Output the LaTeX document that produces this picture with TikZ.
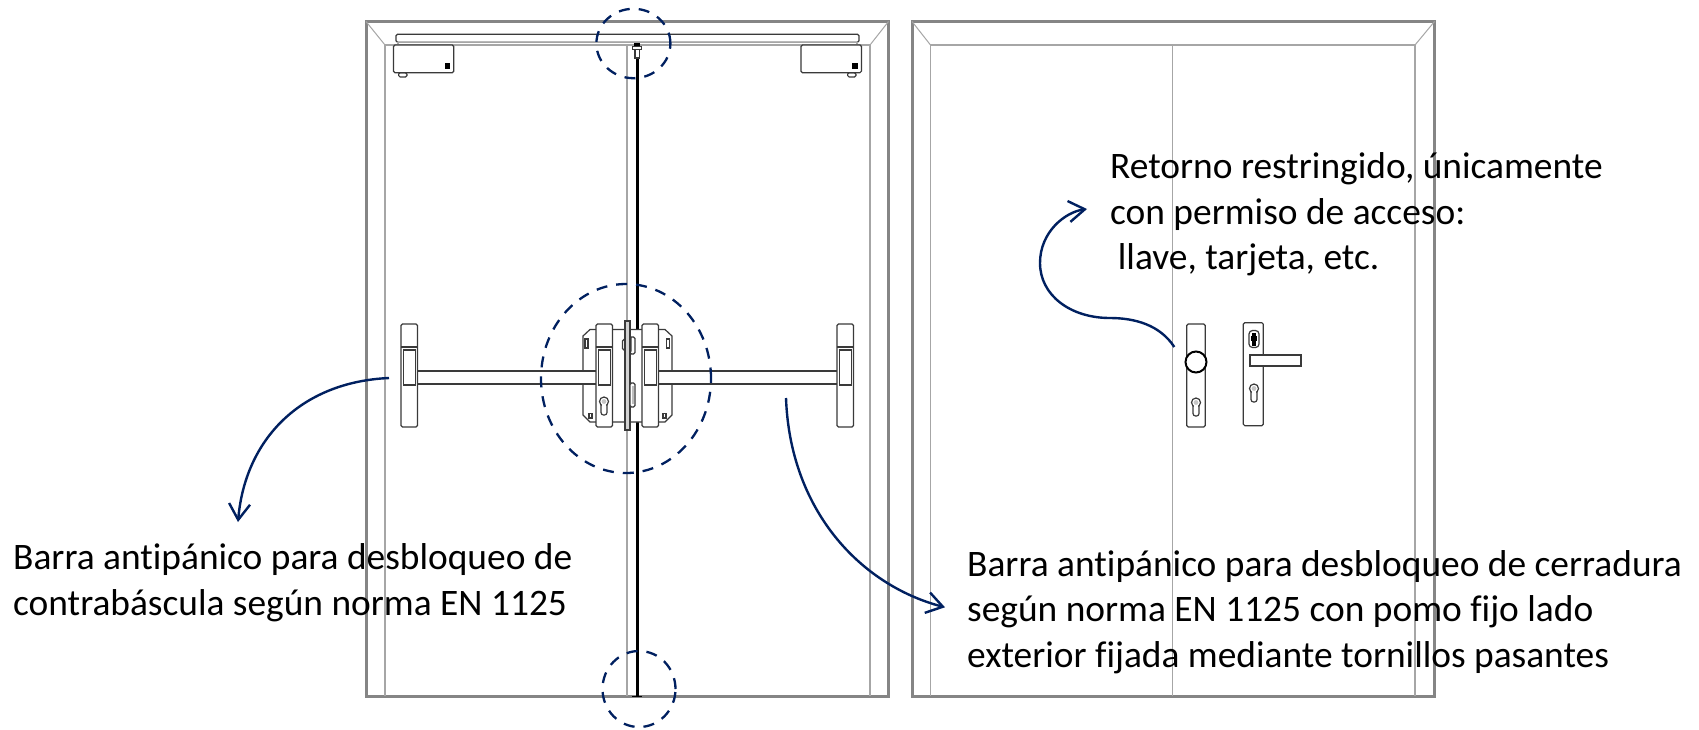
\documentclass[tikz,border=0pt]{standalone}
\usepackage{fontspec}
\setmainfont[Ligatures=NoCommon]{Carlito}
\usetikzlibrary{arrows.meta}
\definecolor{navy}{HTML}{002060}
\definecolor{framegray}{HTML}{858585}
\definecolor{innergray}{HTML}{A6A6A6}
\definecolor{ink}{HTML}{3A3A3A}
\tikzset{
  outerframe/.style={draw=framegray,line width=3pt},
  innerframe/.style={draw=innergray,line width=1.5pt},
  mitre/.style={draw=innergray,line width=1pt},
  part/.style={draw=ink,fill=white,line width=1.2pt,rounded corners=1.5pt},
  sharp/.style={draw=ink,fill=white,line width=1.2pt},
  zone/.style={draw=navy,line width=2.3pt,dash pattern=on 11pt off 9pt},
  callout/.style={draw=navy,line width=2.4pt,-{Straight Barb[length=16pt,width=21pt,line width=2.4pt]}},
  label/.style={anchor=north west,inner sep=0pt,align=left,text=black,font=\fontsize{37.4}{45.5}\selectfont},
}
\newcommand{\firstline}{\rule{0pt}{26pt}}
\newcommand{\keyholeat}[2]{%
  \draw[ink,fill=white,line width=1.2pt,rounded corners=2.5pt] (#1-3,#2-4) rectangle (#1+3,#2+9);
  \draw[ink,fill=white,line width=1.2pt] (#1,#2-4.5) circle (4.5pt);
  \fill[white] (#1-2.4,#2-4) rectangle (#1+2.4,#2+1);
  \fill[gray!45] (#1,#2-4.5) circle (2.4pt);
}
\newcommand{\doorframe}[5]{% outer L, outer R, inner L, inner R, centre
  \draw[outerframe] (#1,21.5) rectangle (#2,696);
  \draw[innerframe] (#3,696) -- (#3,45) -- (#4,45) -- (#4,696);
  \draw[innerframe] (#5,45) -- (#5,696);
  \draw[mitre] (#1,21.5) -- (#3,45);
  \draw[mitre] (#2,21.5) -- (#4,45);
}
\newcommand{\barend}[1]{% plate of a panic bar, #1 = left edge of the plate
  \draw[part] (#1,324) rectangle (#1+16.5,427);
  \draw[ink,line width=1.2pt] (#1,347) -- (#1+16.5,347);
  \draw[sharp] (#1+2.2,350) rectangle (#1+14.5,385);
}
\begin{document}
\begin{tikzpicture}[x=1pt,y=-1pt]
\useasboundingbox (0,0) rectangle (1699,729);
\fill[white] (0,0) rectangle (1699,729);

\doorframe{366}{888.5}{385}{870}{627}
\doorframe{912}{1434.5}{930.5}{1415}{1172.6}

% --- door closer rail
\draw[part] (396,34.3) rectangle (859,42.3);
\draw[sharp,draw=innergray] (398,42.3) rectangle (857,45);
\draw[part] (398.6,72.7) rectangle (407,77);
\draw[part] (847.6,72.7) rectangle (856,77);
\draw[part] (393.4,45) rectangle (453.7,72.7);
\draw[part] (801,45) rectangle (861.4,72.7);
\fill[black] (444.7,63.3) rectangle (450,69);
\fill[black] (852.4,63.3) rectangle (858.3,69);

% --- rod
\draw[black,line width=3pt] (637,56) -- (637,697);
\draw[black,line width=1.5pt] (632,696.5) -- (642,696.5);
\fill[black] (634,42.5) rectangle (640,46.7);
\draw[sharp] (632.5,46.7) rectangle (641.5,49.2);
\draw[sharp] (635,49.2) rectangle (639.5,58);

% --- lock plate
\draw[sharp] (590,329.5) -- (665,329.5) -- (672,336) -- (672,415) -- (665,422)
  -- (590,422) -- (583,415) -- (583,336) -- cycle;
\draw[sharp] (585,339) rectangle (588,348);
\draw[sharp] (666.5,339) rectangle (669.5,348);
\draw[sharp] (589,413.5) rectangle (592,418);
\draw[sharp] (663,413.5) rectangle (666,418);

% --- bars
\draw[sharp] (416,371) rectangle (598,384);
\draw[sharp] (657,371) rectangle (839,384);
\barend{401}
\barend{596}
\barend{642}
\barend{837}
\keyholeat{604}{406}

% --- central strip
\draw[sharp,fill=gray!35] (625,321) rectangle (630,430);
\draw[part] (630,337) rectangle (635,354);
\draw[sharp] (625,338.5) -- (622.5,341) -- (622.5,348.5) -- (625,351) -- (631,351) -- (631,338.5) -- cycle;
\draw[sharp,fill=gray!35] (625,321) rectangle (630,430);
\draw[part] (630,383) rectangle (635,407);
\fill[gray!50] (631.5,386) rectangle (633.5,404);

% --- right door hardware
\draw[part] (1186.7,324) rectangle (1205.3,427);
\draw[black,fill=white,line width=2pt] (1196,362) circle (10.5pt);
\keyholeat{1196}{407}
\draw[part] (1243.3,322.7) rectangle (1263.3,425.7);
\draw[sharp] (1250,355) rectangle (1301,366);
\keyholeat{1254}{393}
\draw[ink,fill=white,line width=1.2pt,rounded corners=3.5pt] (1249,330.5) rectangle (1259,347.5);
\fill[black] (1252,332.5) rectangle (1256,345.5);
\fill[black] (1251,336) rectangle (1257,341);

% --- zones
\coordinate (topc) at (633.4,43.5);
\coordinate (midc) at (626,378.5);
\coordinate (botc) at (639,689);
\draw[zone] (topc) ellipse [x radius=37pt,y radius=34.7pt];
\draw[zone] (midc) ellipse [x radius=85pt,y radius=94.5pt];
\draw[zone] (botc) ellipse [x radius=36.5pt,y radius=38pt];

% --- labels
\node[label] (lblA) at (13,543.5) {\firstline Barra antipánico para desbloqueo de\\contrabáscula según norma EN 1125};
\node[label] (lblB) at (967,549.8) {\firstline Barra antipánico para desbloqueo de cerradura\\según norma EN 1125 con pomo fijo lado\\exterior fijada mediante tornillos pasantes};
\node[label] (lblC) at (1110,152.5) {\firstline Retorno restringido, únicamente\\con permiso de acceso:\\\hspace*{7.7pt}llave, tarjeta, etc.};

% --- callouts
\coordinate (a0) at (389,378);
\coordinate (a1) at (238,522);
\coordinate (b0) at (786,398);
\coordinate (b1) at (945,607.3);
\coordinate (c0) at (1174.3,347);
\coordinate (c1) at (1110,318);
\coordinate (c2) at (1040,263);
\coordinate (c3) at (1087,209);
\draw[callout] (a0) .. controls (300,382) and (245,440) .. (a1);
\draw[callout] (b0) .. controls (790,510) and (860,585) .. (b1);
\draw[callout] (c0) .. controls (1160,325) and (1135,318) .. (c1)
  .. controls (1070,318) and (1040,295) .. (c2)
  .. controls (1040,232) and (1065,212) .. (c3);
\end{tikzpicture}
\end{document}
